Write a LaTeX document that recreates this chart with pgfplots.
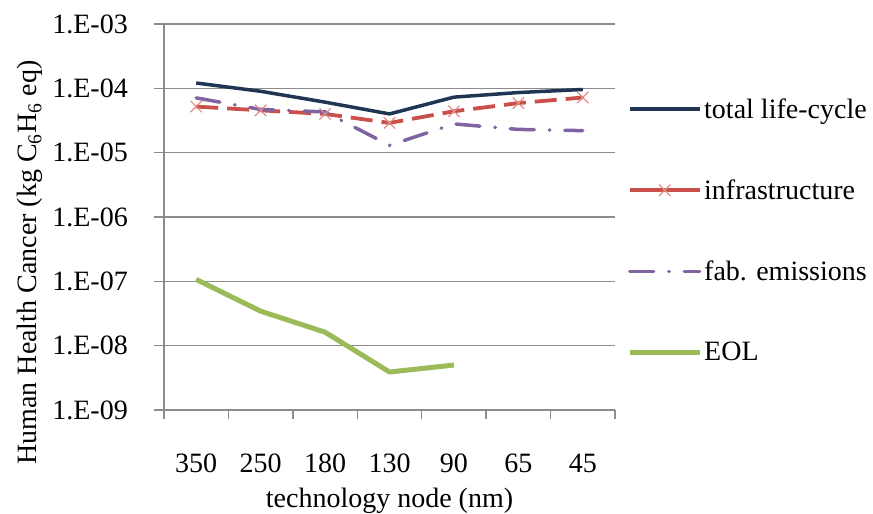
\documentclass[border=0pt]{standalone}
\usepackage{pgfplots}
\pgfplotsset{compat=1.18}
\usepackage{fontspec}
\setmainfont{Liberation Serif}

\definecolor{totalc}{HTML}{1F3552}
\definecolor{infrac}{HTML}{C9504B}
\definecolor{infram}{HTML}{E48C86}
\definecolor{fabc}{HTML}{8064A2}
\definecolor{eolc}{HTML}{9BBB59}
\definecolor{axc}{HTML}{8C8C8C}

\newcommand{\bigfont}{\rmfamily\fontsize{28bp}{34bp}\selectfont}

\begin{document}
\begin{tikzpicture}
\begin{axis}[
  at={(0,0)}, anchor=south west,
  scale only axis,
  width=451bp, height=386bp,
  ymode=log,
  ymin=1e-9, ymax=1e-3,
  xmin=-0.5, xmax=6.5,
  axis lines*=left,
  axis line style={axc, line width=1.3bp},
  ytick={1e-9,1e-8,1e-7,1e-6,1e-5,1e-4,1e-3},
  yticklabels={1.E-09,1.E-08,1.E-07,1.E-06,1.E-05,1.E-04,1.E-03},
  yminorticks=false,
  xtick={0,1,2,3,4,5,6},
  xticklabels={350,250,180,130,90,65,45},
  minor xtick={-0.5,0.5,1.5,2.5,3.5,4.5,5.5,6.5},
  tick align=outside,
  major tick length=10bp,
  minor tick length=9bp,
  major x tick style={draw=none},
  tick style={axc, line width=1.3bp},
  ymajorgrids,
  major grid style={axc, line width=1.3bp},
  /pgf/number format/assume math mode=true,
  yticklabel style={font=\bigfont, anchor=east, inner sep=0pt, xshift=-26bp},
  xticklabel style={font=\bigfont, anchor=base, inner sep=0pt, yshift=-53bp},
  every axis x label/.style={at={(axis description cs:0.5,-0.2513)}, anchor=base, font=\bigfont},
  every axis y label/.style={at={(axis description cs:-0.2816,0.382)}, anchor=base, rotate=90, font=\bigfont},
  xlabel={technology node (nm)},
  ylabel={Human Health Cancer (kg C\textsubscript{6}H\textsubscript{6} eq)},
  legend cell align=left,
  legend style={
    at={(axis description cs:1.02,0.818)}, anchor=north west,
    draw=none, fill=none, font=\bigfont,
    row sep=56bp,
    nodes={inner sep=2bp},
  },
  legend image code/.code={
    \draw[mark repeat=2, mark phase=2, #1] plot coordinates {(0bp,0bp) (35bp,0bp) (70bp,0bp)};
  },
]
% total life-cycle
\addplot[color=totalc, line width=3.5bp, line join=round] coordinates {
  (0,1.21e-4) (1,9.0e-5) (2,6.1e-5) (3,4.0e-5) (4,7.3e-5) (5,8.6e-5) (6,9.6e-5)
};
\addlegendentry{total life-cycle}
% infrastructure
\addplot[color=infrac, line width=3.8bp, dash pattern=on 22bp off 9bp,
  mark=x, mark size=8bp, mark options={solid, draw=infram, line width=1.2bp},
  legend image post style={solid}] coordinates {
  (0,5.2e-5) (1,4.55e-5) (2,4.0e-5) (3,2.9e-5) (4,4.4e-5) (5,5.9e-5) (6,7.2e-5)
};
\addlegendentry{infrastructure}
% fab. emissions
\addplot[color=fabc, line width=3.5bp, line cap=round,
  dash pattern=on 24bp off 15bp on 0.5bp off 15bp] coordinates {
  (0,7.1e-5) (1,4.7e-5) (2,4.3e-5) (3,1.3e-5) (4,2.8e-5) (5,2.3e-5) (6,2.2e-5)
};
\addlegendentry{fab. emissions}
% EOL
\addplot[color=eolc, line width=5bp, line join=round] coordinates {
  (0,1.07e-7) (1,3.44e-8) (2,1.62e-8) (3,3.9e-9) (4,5.0e-9)
};
\addlegendentry{EOL}
\end{axis}
\pgfresetboundingbox
\path (-164bp,-104bp) rectangle (709bp,410bp);
\end{tikzpicture}
\end{document}
